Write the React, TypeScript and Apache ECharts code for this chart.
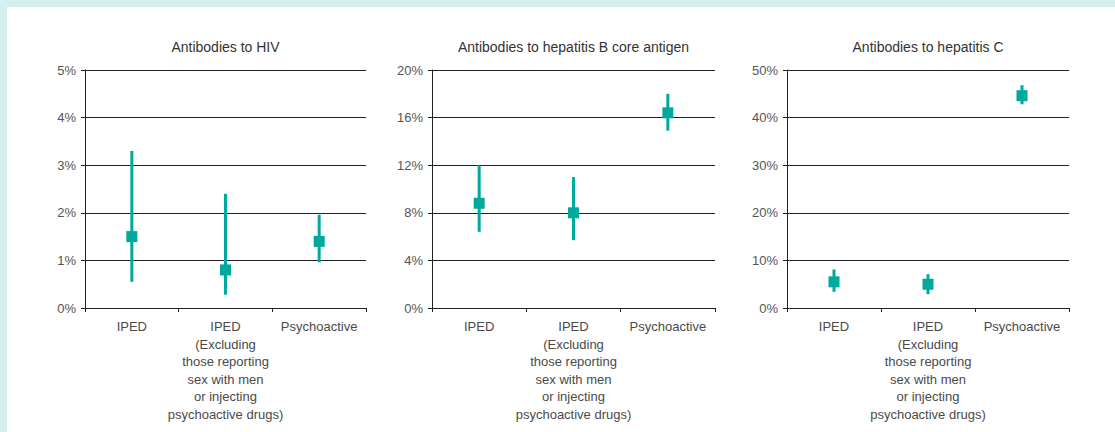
import React, { useEffect, useRef } from "react";
import * as echarts from "echarts";

const categories = [
  "IPED",
  "IPED\n(Excluding\nthose reporting\nsex with men\nor injecting\npsychoactive drugs)",
  "Psychoactive",
];

const panelTitles = [
  "Antibodies to HIV",
  "Antibodies to hepatitis B core antigen",
  "Antibodies to hepatitis C",
];

const hivEst = [1.5, 0.8, 1.4];
const hivLow = [0.55, 0.28, 0.96];
const hivHigh = [3.3, 2.4, 1.96];

const hbcEst = [8.8, 8.0, 16.4];
const hbcLow = [6.4, 5.7, 14.9];
const hbcHigh = [12.0, 11.0, 18.0];

const hcvEst = [5.5, 5.0, 44.6];
const hcvLow = [3.4, 2.9, 42.8];
const hcvHigh = [8.1, 7.1, 46.8];

const yMax = [5, 20, 50];
const yInterval = [1, 4, 10];

const TEAL = "#00a99d";
const FONT = "'Liberation Sans', Arial, sans-serif";

export default function App() {
  const ref = useRef<HTMLDivElement>(null);

  useEffect(() => {
    if (!ref.current) return;
    const chart = echarts.init(ref.current, undefined, { renderer: "svg" });

    const panels = [
      { est: hivEst, low: hivLow, high: hivHigh },
      { est: hbcEst, low: hbcLow, high: hbcHigh },
      { est: hcvEst, low: hcvLow, high: hcvHigh },
    ];
    const lefts = [78, 425, 780];
    const widths = [281, 283, 282];
    const top = 63;
    const height = 238;

    const grids = lefts.map((l, i) => ({ left: l, top, width: widths[i], height }));

    const xAxes = lefts.map((_, i) => ({
      type: "category",
      gridIndex: i,
      data: categories,
      boundaryGap: true,
      axisLine: { lineStyle: { color: "#222", width: 1 } },
      axisTick: { show: true, length: 4, lineStyle: { color: "#222" } },
      axisLabel: {
        interval: 0,
        color: "#4a4a4a",
        fontSize: 13,
        fontFamily: FONT,
        lineHeight: 17.5,
        margin: 10,
        align: "center",
      },
      splitLine: { show: false },
    }));

    const yAxes = lefts.map((_, i) => ({
      type: "value",
      gridIndex: i,
      min: 0,
      max: yMax[i],
      interval: yInterval[i],
      axisLine: { show: true, lineStyle: { color: "#222", width: 1 } },
      axisTick: { show: true, length: 4, lineStyle: { color: "#222" } },
      axisLabel: {
        formatter: "{value}%",
        color: "#555",
        fontSize: 13,
        fontFamily: FONT,
        margin: 9,
      },
      splitLine: { show: true, lineStyle: { color: "#222", width: 1 } },
    }));

    const series: any[] = [];
    panels.forEach((p, i) => {
      series.push({
        type: "custom",
        xAxisIndex: i,
        yAxisIndex: i,
        data: p.low.map((lo, k) => [k, lo, p.high[k]]),
        encode: { x: 0, y: [1, 2] },
        z: 3,
        renderItem: (params: any, api: any) => {
          const a = api.coord([api.value(0), api.value(1)]);
          const b = api.coord([api.value(0), api.value(2)]);
          return {
            type: "line",
            shape: { x1: a[0], y1: a[1], x2: b[0], y2: b[1] },
            style: { stroke: TEAL, lineWidth: 3 },
          };
        },
      });
      series.push({
        type: "scatter",
        xAxisIndex: i,
        yAxisIndex: i,
        symbol: "rect",
        symbolSize: [11, 11],
        itemStyle: { color: TEAL, opacity: 1 },
        z: 4,
        data: p.est.map((v, k) => [k, v]),
      });
    });

    const graphic = lefts.map((l, i) => ({
      type: "text",
      x: l + widths[i] / 2,
      y: 40,
      style: {
        text: panelTitles[i],
        fill: "#333",
        fontSize: 14,
        fontFamily: FONT,
        textAlign: "center",
        textVerticalAlign: "middle",
      },
    }));

    chart.setOption({
      animation: false,
      backgroundColor: "#ffffff",
      grid: grids,
      xAxis: xAxes,
      yAxis: yAxes,
      series,
      graphic,
    });

    return () => chart.dispose();
  }, []);

  return (
    <div
      style={{
        position: "absolute",
        left: 0,
        top: 0,
        width: 1115,
        height: 432,
        background: "#d5eeef",
        overflow: "hidden",
      }}
    >
      <div
        ref={ref}
        style={{ position: "absolute", left: 7, top: 7, width: 1108, height: 425 }}
      />
    </div>
  );
}
